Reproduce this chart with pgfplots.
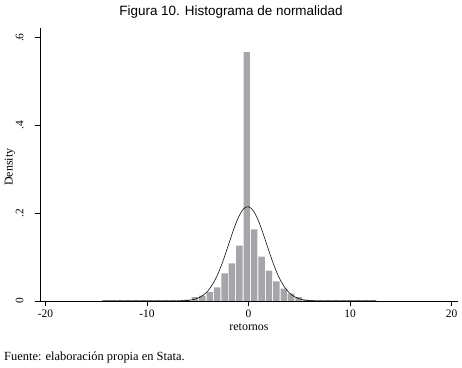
\documentclass[border=0pt]{standalone}
\usepackage{fontspec}
\setmainfont{Liberation Serif}
\newfontfamily\sansfont{Liberation Sans}
\usepackage{pgfplots}
\pgfplotsset{compat=1.18}
\definecolor{barfill}{RGB}{166,166,170}
\begin{document}
\begin{tikzpicture}
\begin{axis}[
  name=ax,
  scale only axis,
  width=418bp, height=273bp,
  xmin=-20.54, xmax=20.64, ymin=0, ymax=0.622,
  axis x line*=bottom, axis y line*=left,
  axis line style={black, line width=0.6bp},
  axis on top,
  xtick={-20,-10,0,10,20},
  xticklabels={-20,-10,0,10,20},
  ytick={0,0.2,0.4,0.6},
  yticklabels={0,.2,.4,.6},
  tick align=outside,
  major tick length=5bp,
  tick style={black, line width=0.6bp},
  yticklabel style={rotate=90, anchor=south, yshift=8bp},
  ticklabel style={font=\fontsize{11.5}{13}\selectfont},
  /pgf/number format/assume math mode=true,
  xlabel={retornos}, ylabel={Density},
  label style={font=\fontsize{12}{14}\selectfont},
  xlabel style={at={(axis description cs:0.5,0)}, anchor=center, yshift=-26bp},
  ylabel style={at={(axis description cs:-0.072,0.49)}, anchor=center},
]
\addplot[ybar interval, bar interval width=0.87, fill=barfill, draw=none] coordinates {
(-14.400,0.002) (-13.670,0.002) (-12.941,0.002) (-12.211,0.002) (-11.481,0.002)
(-10.751,0.002) (-10.022,0.002) (-9.292,0.002) (-8.562,0.002) (-7.832,0.002)
(-7.103,0.002) (-6.373,0.003) (-5.643,0.009) (-4.914,0.0125) (-4.184,0.020)
(-3.454,0.031) (-2.724,0.063) (-1.995,0.086) (-1.265,0.126) (-0.535,0.567)
(0.195,0.163) (0.924,0.101) (1.654,0.069) (2.384,0.045) (3.114,0.028)
(3.843,0.017) (4.573,0.009) (5.303,0.003) (6.032,0.002) (6.762,0.002)
(7.492,0.002) (8.222,0.002) (8.951,0.002) (9.681,0.002) (10.411,0.002)
(11.141,0.002) (11.870,0.002) (12.600,0.002)
};
\addplot[black, line width=0.55bp, smooth] coordinates {
(-14.4,0) (-10,0) (-8,0.00002) (-7,0.0002) (-6,0.0013) (-5.5,0.0030)
(-5,0.0064) (-4.5,0.0126) (-4,0.0231) (-3.5,0.0393) (-3,0.0623)
(-2.5,0.0918) (-2,0.1259) (-1.5,0.1605) (-1,0.1902) (-0.5,0.2097)
(0,0.2149) (0.5,0.2048) (1,0.1816) (1.5,0.1497) (2,0.1147) (2.5,0.0818)
(3,0.0542) (3.5,0.0334) (4,0.0191) (4.5,0.0102) (5,0.0051) (5.5,0.0023)
(6,0.0010) (7,0.00015) (8,0.00001) (10,0) (12.6,0)
};
\end{axis}
\node[font=\sansfont\fontsize{13.5}{16}\selectfont] at ([xshift=191bp,yshift=289bp]ax.south west) {Figura 10. Histograma de normalidad};
\node[anchor=west, inner sep=0pt, font=\fontsize{12.5}{15}\selectfont] at ([xshift=-36bp,yshift=-56bp]ax.south west) {Fuente: elaboración propia en Stata.};
\pgfresetboundingbox
\path[use as bounding box] ([xshift=-40bp,yshift=-67bp]ax.south west) rectangle ([xshift=4bp,yshift=28bp]ax.north east);
\end{tikzpicture}
\end{document}
